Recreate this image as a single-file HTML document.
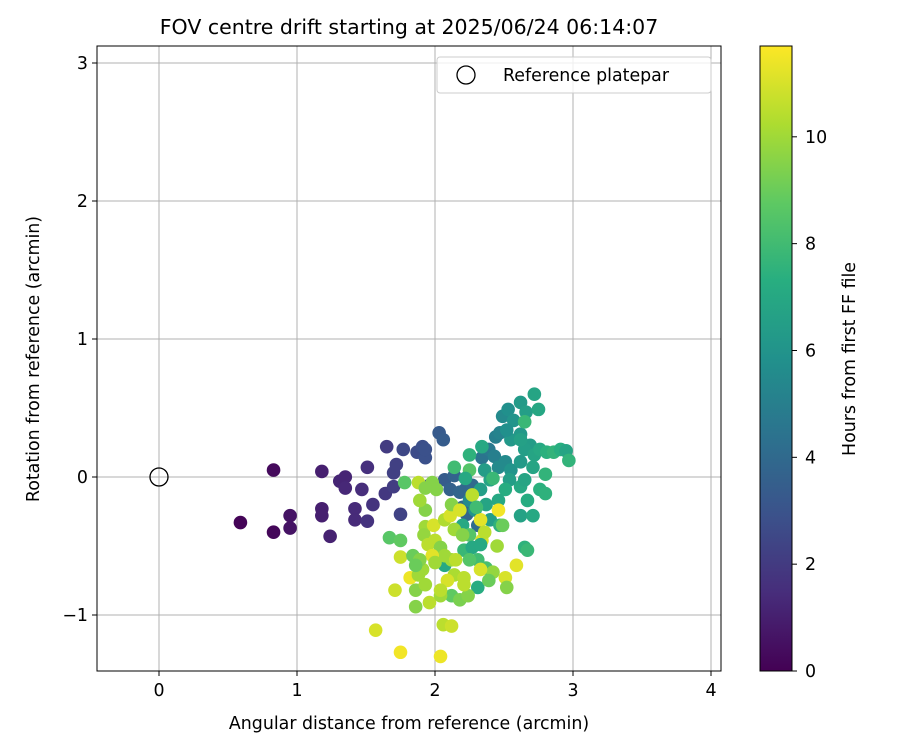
<!DOCTYPE html>
<html><head><meta charset="utf-8"><style>
body{margin:0;background:#fff;}
svg text{font-family:"DejaVu Sans","Liberation Sans",sans-serif;fill:#000;}
</style></head><body>
<svg id="chart" width="900" height="750" xmlns="http://www.w3.org/2000/svg">
<defs><linearGradient id="vir" x1="0" y1="1" x2="0" y2="0">
<stop offset="0" stop-color="#440154"/><stop offset="0.125" stop-color="#472d7b"/><stop offset="0.25" stop-color="#3b528b"/><stop offset="0.375" stop-color="#2c728e"/><stop offset="0.5" stop-color="#21918c"/><stop offset="0.625" stop-color="#28ae80"/><stop offset="0.75" stop-color="#5ec962"/><stop offset="0.875" stop-color="#addc30"/><stop offset="1" stop-color="#fde725"/></linearGradient></defs>
<text x="409" y="34" font-size="20.5" text-anchor="middle">FOV centre drift starting at 2025/06/24 06:14:07</text>
<g id="grid"></g>
<g id="points"></g>
<rect x="97" y="46" width="624" height="625" fill="none" stroke="#000" stroke-width="1"/>
<g id="axes"></g>
<text x="409" y="729" font-size="17.4" text-anchor="middle">Angular distance from reference (arcmin)</text>
<text transform="translate(39,359) rotate(-90)" font-size="17.4" text-anchor="middle">Rotation from reference (arcmin)</text>
<g>
<rect x="437" y="57" width="274" height="36" rx="3" fill="#fff" fill-opacity="0.8" stroke="#ccc"/>
<circle cx="466" cy="75" r="9" fill="none" stroke="#000" stroke-width="1.3"/>
<text x="503" y="81" font-size="17.4">Reference platepar</text>
</g>
<rect x="760" y="46" width="32" height="625" fill="url(#vir)" stroke="#000" stroke-width="1"/>
<g id="cbaxis"></g>
<text transform="translate(855,359) rotate(-90)" font-size="17.4" text-anchor="middle">Hours from first FF file</text>
</svg>
<script>
const xTicks=[0,1,2,3,4];
const yTicks=[-1,0,1,2,3];
const cTicks=[0,2,4,6,8,10];
const refX=[0];
const refY=[0];
const xs=[0.59,0.83,0.83,0.95,0.95,1.18,1.18,1.18,1.24,1.31,1.35,1.35,1.42,1.42,1.47,1.51,1.51,1.55,1.64,1.65,1.70,1.70,1.72,1.75,1.77,1.87,1.91,1.93,1.93,1.96,2.03,2.06,2.07,2.11,2.14,2.18,2.22,2.23,2.27,2.20,2.31,2.34,2.39,2.44,2.47,2.49,2.53,2.57,2.62,2.66,2.72,2.75,2.55,2.52,2.62,2.69,2.43,2.46,2.51,2.55,2.62,2.65,2.72,2.71,2.76,2.81,2.86,2.91,2.95,2.97,2.80,2.76,2.80,2.62,2.65,2.67,2.62,2.71,2.54,2.51,2.40,2.36,2.33,2.46,2.37,2.25,2.29,2.40,2.47,2.20,2.25,2.21,2.27,2.31,2.37,2.65,2.67,2.31,2.07,1.78,1.88,1.98,1.67,1.75,1.75,1.82,1.91,1.84,1.86,1.71,1.86,1.96,1.57,1.75,2.04,2.06,2.12,1.93,1.93,1.92,1.95,1.99,2.00,2.04,2.07,1.98,2.12,2.15,2.14,2.09,2.21,2.12,2.18,2.24,2.04,2.07,2.11,2.14,2.20,2.12,2.01,1.93,1.89,2.18,2.27,2.33,2.34,2.36,2.45,2.42,2.46,2.49,2.51,2.52,2.59,2.39,2.33,2.25,2.21,2.04,1.93,1.88,1.89,1.86,2.25,2.25,2.14,2.22,2.33,2.30,2.00,2.34,2.62,2.65,2.42];
const ys=[-0.33,0.05,-0.40,-0.28,-0.37,0.04,-0.23,-0.28,-0.43,-0.03,0,-0.08,-0.23,-0.31,-0.09,0.07,-0.32,-0.20,-0.12,0.22,-0.07,0.03,0.09,-0.27,0.20,0.18,0.22,0.14,0.20,-0.06,0.32,0.27,-0.02,-0.09,0.01,-0.11,-0.09,-0.27,-0.06,-0.22,-0.35,0.14,0.20,0.29,0.32,0.44,0.49,0.41,0.54,0.47,0.60,0.49,0.27,0.34,0.31,0.23,0.15,0.07,0.11,0.05,0.11,0.20,0.16,0.07,0.20,0.18,0.18,0.20,0.19,0.12,0.02,-0.09,-0.12,-0.07,-0.02,-0.17,-0.28,-0.28,-0.02,-0.09,-0.02,0.05,-0.09,-0.17,-0.20,-0.17,-0.24,-0.31,-0.35,-0.35,-0.42,-0.53,-0.51,-0.60,-0.66,-0.51,-0.53,-0.80,-0.64,-0.04,-0.04,-0.04,-0.44,-0.46,-0.58,-0.73,-0.67,-0.57,-0.82,-0.82,-0.94,-0.91,-1.11,-1.27,-1.30,-1.07,-1.08,-0.24,-0.36,-0.42,-0.49,-0.35,-0.46,-0.51,-0.57,-0.57,-0.60,-0.60,-0.71,-0.75,-0.73,-0.86,-0.89,-0.86,-0.86,-0.31,-0.28,-0.38,-0.42,-0.20,-0.09,-0.08,-0.17,-0.24,-0.13,-0.31,-0.46,-0.40,-0.50,-0.69,-0.24,-0.35,-0.73,-0.80,-0.64,-0.75,-0.67,-0.60,-0.78,-0.82,-0.78,-0.71,-0.60,-0.64,0.05,0.16,0.07,-0.01,-0.49,-0.22,-0.62,0.22,0.27,0.40,-0.01];
const hrs=[0.1,0.3,0.2,0.6,0.6,1.0,1.0,1.0,1.1,1.2,1.2,1.3,1.4,1.4,1.5,1.6,1.7,1.7,1.9,2.0,2.1,2.2,2.2,2.3,2.5,2.7,2.8,2.9,2.9,3.0,3.3,3.4,3.4,3.6,3.7,3.8,3.9,3.8,4.0,3.9,4.1,4.5,4.7,5.0,5.2,5.5,5.8,6.0,6.3,6.5,6.8,6.9,6.2,5.8,6.2,6.4,5.0,5.5,5.5,6.0,6.3,6.5,6.8,6.8,7.0,7.4,7.6,7.3,6.8,7.6,7.6,7.4,7.5,7.0,6.8,7.2,6.7,7.0,6.5,7.2,6.8,6.4,6.5,7.0,6.8,5.5,6.0,6.5,7.5,7.0,8.5,7.8,7.0,8.0,8.2,7.5,7.8,7.2,7.0,8.6,10.5,9.5,8.6,8.8,10.8,11.4,10.0,9.0,9.5,10.8,9.5,10.5,11.0,11.5,11.4,10.5,10.8,9.5,10.0,9.8,10.5,11.0,10.5,9.5,10.0,11.2,10.0,10.5,10.2,11.0,10.5,8.8,9.3,9.5,10.0,10.3,11.0,10.0,9.5,9.5,9.5,9.5,10.0,11.0,10.5,11.2,11.0,10.5,10.0,9.8,11.5,9.0,11.0,9.5,11.2,9.0,11.0,8.5,10.5,10.5,10.0,10.0,9.5,9.0,8.5,7.5,8.0,7.0,7.0,8.0,10.0,7.0,6.6,7.8,7.8];
const X=v=>159+(v)*138, Y=v=>477-(v)*138;
const CB=v=>671-v*(625/11.7);
const stops=["#440154","#472d7b","#3b528b","#2c728e","#21918c","#28ae80","#5ec962","#addc30","#fde725"];
function hex(h){return [1,3,5].map(i=>parseInt(h.substr(i,2),16));}
function cmap(t){t=Math.max(0,Math.min(1,t/11.7))*8;const i=Math.min(7,Math.floor(t)),f=t-i;const a=hex(stops[i]),b=hex(stops[i+1]);return 'rgb('+a.map((c,k)=>Math.round(c+(b[k]-c)*f)).join(',')+')';}
const NS="http://www.w3.org/2000/svg";
function mk(tag,attrs,parent,txt){const e=document.createElementNS(NS,tag);for(const k in attrs)e.setAttribute(k,attrs[k]);if(txt!==undefined)e.textContent=txt;parent.appendChild(e);return e;}
const grid=document.getElementById('grid'),axes=document.getElementById('axes'),pts=document.getElementById('points'),cb=document.getElementById('cbaxis');
xTicks.forEach(t=>{
 const g=mk('line',{x1:X(t),x2:X(t),y1:46,y2:671,stroke:'#b0b0b0','stroke-width':1},grid);
 
 
 const tk=mk('line',{x1:X(t),x2:X(t),y1:671,y2:676,stroke:'#000'},axes);
 
 
 const l=mk('text',{x:X(t),y:696,'font-size':17.4,'text-anchor':'middle'},axes,String(t));
 
 
});
yTicks.forEach(t=>{
 const g=mk('line',{x1:97,x2:721,y1:Y(t),y2:Y(t),stroke:'#b0b0b0','stroke-width':1},grid);
 
 
 const tk=mk('line',{x1:92,x2:97,y1:Y(t),y2:Y(t),stroke:'#000'},axes);
 
 
 const l=mk('text',{x:88,y:Y(t)+6,'font-size':17.4,'text-anchor':'end'},axes,t<0?'\u2212'+Math.abs(t):String(t));
 
 
});
cTicks.forEach(t=>{
 const tk=mk('line',{x1:792,x2:797,y1:CB(t),y2:CB(t),stroke:'#000'},cb);
 
 
 const l=mk('text',{x:805,y:CB(t)+6,'font-size':17.4},cb,String(t));
 
 
});
xs.forEach((x,i)=>{
 const c=mk('circle',{cx:X(x),cy:Y(ys[i]),r:6.8,fill:cmap(hrs[i])},pts);
 
 
});
refX.forEach((x,i)=>{
 const c=mk('circle',{cx:X(x),cy:Y(refY[i]),r:9,fill:'none',stroke:'#000','stroke-width':1.3},pts);
 
 
});
</script>
</body></html>
